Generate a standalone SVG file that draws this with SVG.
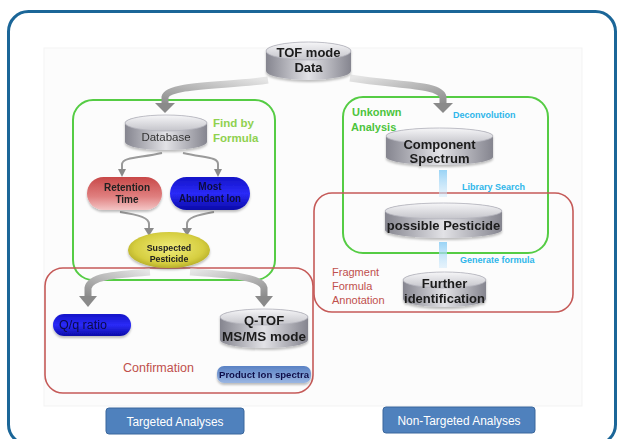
<svg xmlns="http://www.w3.org/2000/svg" width="621" height="439" viewBox="0 0 621 439">
<defs>
<linearGradient id="cylBody" x1="0" y1="0" x2="1" y2="0">
<stop offset="0" stop-color="#85858f"/><stop offset="0.5" stop-color="#e2e2e6"/><stop offset="1" stop-color="#85858f"/>
</linearGradient>
<linearGradient id="cylTop" x1="0" y1="0" x2="0" y2="1">
<stop offset="0" stop-color="#f6f6f8"/><stop offset="1" stop-color="#c4c4ca"/>
</linearGradient>
<linearGradient id="redPill" x1="0" y1="0" x2="0" y2="1">
<stop offset="0" stop-color="#c84848"/><stop offset="0.6" stop-color="#e08080"/><stop offset="1" stop-color="#f4c6c6"/>
</linearGradient>
<linearGradient id="bluePill" x1="0" y1="0" x2="0" y2="1">
<stop offset="0" stop-color="#1414c8"/><stop offset="0.5" stop-color="#2a2af8"/><stop offset="1" stop-color="#0a0aa8"/>
</linearGradient>
<radialGradient id="yellow" cx="0.5" cy="0.45" r="0.6">
<stop offset="0" stop-color="#f0ec7a"/><stop offset="0.7" stop-color="#d6ce40"/><stop offset="1" stop-color="#aca420"/>
</radialGradient>
<linearGradient id="prodIon" x1="0" y1="0" x2="0" y2="1">
<stop offset="0" stop-color="#5a82c4"/><stop offset="1" stop-color="#9ab6e2"/>
</linearGradient>
<linearGradient id="glow" x1="0" y1="0" x2="0" y2="1">
<stop offset="0" stop-color="#8fcff5" stop-opacity="0.9"/><stop offset="1" stop-color="#cfe9fb" stop-opacity="0.5"/>
</linearGradient>
<linearGradient id="arrowL" x1="1" y1="0" x2="0" y2="1">
<stop offset="0" stop-color="#e6e6e6"/><stop offset="1" stop-color="#8c8c8c"/>
</linearGradient>
<linearGradient id="arrowR" x1="0" y1="0" x2="1" y2="1">
<stop offset="0" stop-color="#e6e6e6"/><stop offset="1" stop-color="#8c8c8c"/>
</linearGradient>
<filter id="sh" x="-10%" y="-10%" width="120%" height="140%">
<feDropShadow dx="0" dy="2" stdDeviation="1.2" flood-color="#000" flood-opacity="0.25"/>
</filter>
</defs>
<style>
.bold{font-family:"Liberation Sans",Arial,sans-serif;font-weight:bold;}
.reg{font-family:"Liberation Sans",Arial,sans-serif;}
.cyl text{font-size:13px;fill:#1a1a1a;text-anchor:middle;}
.green{fill:none;stroke:#55cc44;stroke-width:2;}
.red{fill:none;stroke:#c55a58;stroke-width:1.6;}
.cyan{fill:#2fb6ea;font-size:9px;}
.thick{fill:none;stroke-width:7;stroke-linecap:butt;}
.thin{fill:none;stroke:#9a9a9a;stroke-width:2;}
.head{fill:#8a8a8a;}
.btn{fill:#4f81bd;stroke:#3b679c;stroke-width:1;}
.btntext{fill:#ffffff;font-size:12px;text-anchor:middle;}
</style>

<rect x="0" y="0" width="621" height="439" fill="#ffffff"/>
<rect id="frame" x="8.5" y="11.5" width="607" height="433" rx="20" fill="none" stroke="#1b6698" stroke-width="3"/>
<rect id="panel" x="44" y="48" width="538" height="358" fill="#fcfcfc" stroke="#f3f3f3" stroke-width="1"/>

<g id="regions">
<rect id="findByFormulaBox" class="green" x="73" y="100" width="202" height="180" rx="20"/>
<rect id="unknownBox" class="green" x="343" y="97" width="205" height="156" rx="20"/>
<rect id="confirmationBox" class="red" x="45" y="268" width="268" height="125" rx="18"/>
<rect id="fragmentBox" class="red" x="314" y="193" width="259" height="119" rx="18"/>
</g>

<g id="connectors">
<path class="thick" stroke="url(#arrowL)" d="M268,80 C230,86 168,84 165,97 L165,104"/>
<polygon class="head" points="155,103 175,103 165,113"/>
<path class="thick" stroke="url(#arrowR)" d="M350,78 C400,86 440,84 443,97 L443,104"/>
<polygon class="head" points="433,103 453,103 443,113"/>
<path class="thin" d="M162,153 C140,158 123,157 122,164 L122,170"/>
<polygon class="head" points="118,169 126,169 122,177"/>
<path class="thin" d="M183,153 C205,158 218,157 218,164 L218,170"/>
<path class="thin" d="M120,212 C140,215 149,218 149,224 L149,229"/>
<polygon class="head" points="144,228 154,228 149,236"/>
<path class="thin" d="M214,212 C196,215 187,218 187,224 L187,229"/>
<polygon class="head" points="182,228 192,228 187,236"/>
<path class="thick" stroke="url(#arrowL)" d="M150,272 C110,275 90,277 88,288 L88,297"/>
<polygon class="head" points="79,296 97,296 88,307"/>
<path class="thick" stroke="url(#arrowR)" d="M190,272 C232,275 262,277 264,288 L264,297"/>
<polygon class="head" points="255,296 273,296 264,307"/>
<rect x="439" y="170" width="8" height="27" fill="url(#glow)"/>
<rect x="439" y="242" width="8" height="26" fill="url(#glow)"/>
</g>

<g id="tofData" class="cyl bold" filter="url(#sh)">
<path d="M266,51 A42.5,9 0 0 1 351,51 L351,71 A42.5,9 0 0 1 266,71 Z" fill="url(#cylBody)"/>
<ellipse cx="308.5" cy="51" rx="42.5" ry="9" fill="url(#cylTop)" stroke="#b4b4bc" stroke-width="0.8"/>
<text x="308.5" y="57">TOF mode</text>
<text x="308.5" y="72">Data</text>
</g>

<g id="database" filter="url(#sh)">
<path d="M125,123 A41,8 0 0 1 207,123 L207,142 A41,8 0 0 1 125,142 Z" fill="url(#cylBody)"/>
<ellipse cx="166" cy="123" rx="41" ry="8" fill="url(#cylTop)" stroke="#b4b4bc" stroke-width="0.8"/>
<text class="reg" x="166" y="141" font-size="11.5" fill="#333" text-anchor="middle">Database</text>
</g>

<g id="findByFormulaLabel" class="bold" font-size="11.5" fill="#8fd14f">
<text x="213" y="127">Find by</text>
<text x="213" y="142">Formula</text>
</g>

<g id="retentionTime" class="bold" filter="url(#sh)">
<rect x="87" y="177" width="75" height="33" rx="16.5" fill="url(#redPill)"/>
<text x="127" y="191" font-size="10" fill="#222" text-anchor="middle">Retention</text>
<text x="127" y="203" font-size="10" fill="#222" text-anchor="middle">Time</text>
</g>

<g id="mostAbundantIon" class="bold" filter="url(#sh)">
<rect x="170" y="177" width="80" height="33" rx="16.5" fill="url(#bluePill)"/>
<text x="210" y="190" font-size="10" fill="#0a0a40" text-anchor="middle">Most</text>
<text x="210" y="202" font-size="10" fill="#0a0a40" text-anchor="middle" textLength="62" lengthAdjust="spacingAndGlyphs">Abundant Ion</text>
</g>
<polygon class="head" points="214,169 222,169 218,177"/>

<g id="suspectedPesticide" class="bold" filter="url(#sh)">
<ellipse cx="169" cy="250" rx="41" ry="18" fill="url(#yellow)"/>
<text x="169" y="251" font-size="8.8" fill="#222" text-anchor="middle">Suspected</text>
<text x="169" y="262" font-size="8.8" fill="#222" text-anchor="middle">Pesticide</text>
</g>

<g id="qqRatio" class="reg" filter="url(#sh)">
<rect x="53" y="314" width="78" height="22" rx="11" fill="url(#bluePill)"/>
<text x="59" y="329" font-size="12.5" fill="#0a0a48">Q/q ratio</text>
</g>

<g id="qtofMsms" class="cyl bold" filter="url(#sh)">
<path d="M220,317 A44,8 0 0 1 308,317 L308,340 A44,8 0 0 1 220,340 Z" fill="url(#cylBody)"/>
<ellipse cx="264" cy="317" rx="44" ry="8" fill="url(#cylTop)" stroke="#b4b4bc" stroke-width="0.8"/>
<text x="264" y="325">Q-TOF</text>
<text x="264" y="341" textLength="84" lengthAdjust="spacingAndGlyphs">MS/MS mode</text>
</g>

<g id="confirmationLabel" class="reg">
<text x="123" y="372" font-size="12.5" fill="#c0504d">Confirmation</text>
</g>

<g id="productIonSpectra" class="bold" filter="url(#sh)">
<rect x="217" y="366" width="94" height="17" rx="7" fill="url(#prodIon)"/>
<text x="264" y="378" font-size="9.5" fill="#10104a" text-anchor="middle" textLength="90" lengthAdjust="spacingAndGlyphs">Product Ion spectra</text>
</g>

<g id="unknownLabel" class="bold" font-size="11" fill="#4cc43c">
<text x="352" y="116">Unkonwn</text>
<text x="351" y="131">Analysis</text>
</g>

<g id="deconvolutionLabel" class="bold">
<text class="cyan" x="453" y="118" font-size="10">Deconvolution</text>
</g>

<g id="componentSpectrum" class="cyl bold" filter="url(#sh)">
<path d="M386,136 A53.5,8 0 0 1 493,136 L493,157 A53.5,8 0 0 1 386,157 Z" fill="url(#cylBody)"/>
<ellipse cx="439.5" cy="136" rx="53.5" ry="8" fill="url(#cylTop)" stroke="#b4b4bc" stroke-width="0.8"/>
<text x="439.5" y="149">Component</text>
<text x="439.5" y="163">Spectrum</text>
</g>

<g id="librarySearchLabel" class="bold">
<text class="cyan" x="462" y="190" font-size="8.5">Library Search</text>
</g>

<g id="possiblePesticide" class="cyl bold" filter="url(#sh)">
<path d="M385,211 A58.5,8 0 0 1 502,211 L502,230 A58.5,8 0 0 1 385,230 Z" fill="url(#cylBody)"/>
<ellipse cx="443.5" cy="211" rx="58.5" ry="8" fill="url(#cylTop)" stroke="#b4b4bc" stroke-width="0.8"/>
<text x="443.5" y="230">possible Pesticide</text>
</g>

<g id="generateFormulaLabel" class="bold">
<text class="cyan" x="460" y="263" font-size="8.7">Generate formula</text>
</g>

<g id="furtherIdentification" class="cyl bold" filter="url(#sh)">
<path d="M403,280 A41.5,8 0 0 1 486,280 L486,299 A41.5,8 0 0 1 403,299 Z" fill="url(#cylBody)"/>
<ellipse cx="444.5" cy="280" rx="41.5" ry="8" fill="url(#cylTop)" stroke="#b4b4bc" stroke-width="0.8"/>
<text x="444.5" y="288">Further</text>
<text x="444.5" y="303">identification</text>
</g>

<g id="fragmentLabel" class="reg" font-size="11" fill="#c0504d">
<text x="332" y="276">Fragment</text>
<text x="332" y="290">Formula</text>
<text x="332" y="304">Annotation</text>
</g>

<g id="targetedAnalyses" class="reg">
<rect class="btn" x="106" y="408" width="138" height="26" rx="3"/>
<text class="btntext" x="175" y="425.5" textLength="97" lengthAdjust="spacingAndGlyphs">Targeted Analyses</text>
</g>

<g id="nonTargetedAnalyses" class="reg">
<rect class="btn" x="383" y="407" width="152" height="26" rx="3"/>
<text class="btntext" x="459" y="424.5" textLength="123" lengthAdjust="spacingAndGlyphs">Non-Targeted Analyses</text>
</g>
</svg>
